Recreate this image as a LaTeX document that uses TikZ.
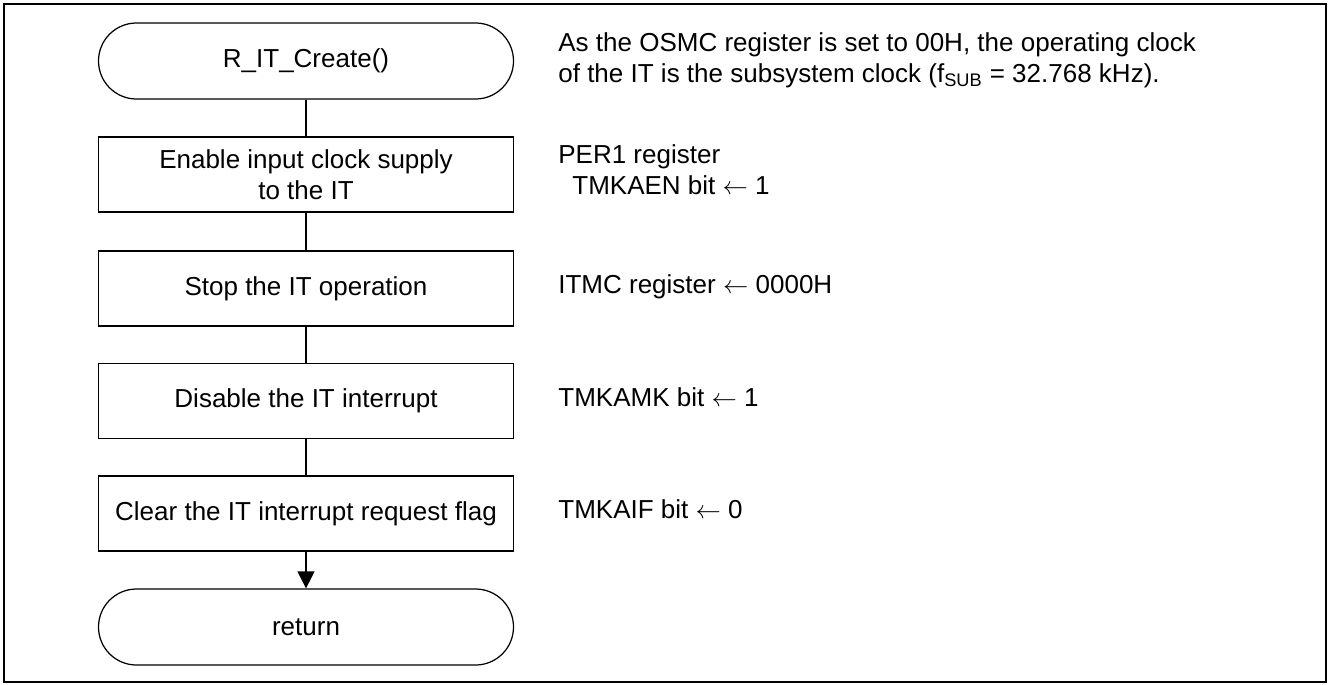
\documentclass[tikz,border=0pt]{standalone}
\usepackage{fontspec}
\setmainfont{Liberation Sans}
\usetikzlibrary{arrows.meta, positioning}
\tikzset{
	block/.style={draw, line width=0.7pt, minimum width=8.3cm, minimum height=1.5cm, align=center},
	terminal/.style={block, rounded corners=0.76cm, minimum height=1.52cm},
	note/.style={anchor=west, align=left, inner sep=0pt},
	link/.style={draw, line width=0.7pt}
}

\begin{document}
\begin{tikzpicture}[font=\fontsize{14.8pt}{17.6pt}\selectfont]
		\useasboundingbox (0,0) rectangle (26.56,-13.68);
		\draw[line width=1.1pt] (0.08,-0.08) rectangle (26.52,-13.64);

		\node[terminal] (create) at (6.12,-1.22) {R\_IT\_Create()};
		\node[block] (enable) at (6.12,-3.49) {Enable input clock supply\\to the IT};
		\node[block] (stop) at (6.12,-5.77) {Stop the IT operation};
		\node[block] (disable) at (6.12,-8.02) {Disable the IT interrupt};
		\node[block] (clear) at (6.12,-10.27) {Clear the IT interrupt request flag};
		\node[terminal] (return) at (6.12,-12.54) {return};

		\draw[link] (create) -- (enable);
		\draw[link] (enable) -- (stop);
		\draw[link] (stop) -- (disable);
		\draw[link] (disable) -- (clear);
		\draw[link, -{Triangle[length=0.34cm, width=0.34cm]}] (clear) -- (return);

		\node[note] (osmc) at (11.16,-1.2) {As the OSMC register is set to 00H, the operating clock\\of the IT is the subsystem clock (f\textsubscript{SUB} = 32.768 kHz).};
		\node[note] (per1) at (11.16,-3.39) {PER1 register\\\hspace*{0.28cm}TMKAEN bit $\leftarrow$ 1};
		\node[note, anchor=base west] (itmc) at (11.16,-5.86) {ITMC register $\leftarrow$ 0000H};
		\node[note, anchor=base west] (tmkamk) at (11.16,-8.12) {TMKAMK bit $\leftarrow$ 1};
		\node[note, anchor=base west] (tmkaif) at (11.16,-10.37) {TMKAIF bit $\leftarrow$ 0};
	\end{tikzpicture}
\end{document}
